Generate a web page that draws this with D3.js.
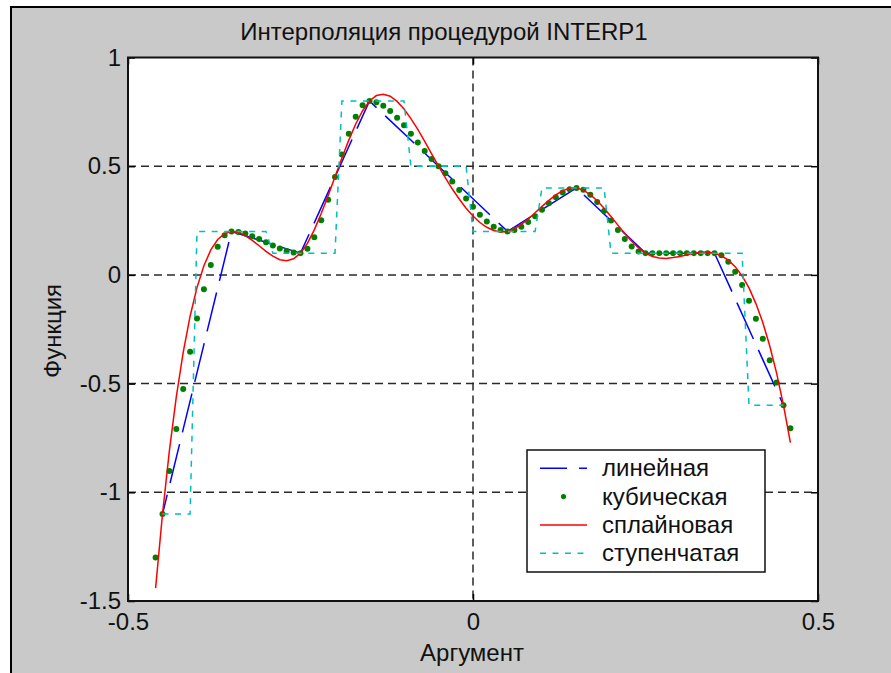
<!DOCTYPE html>
<html>
<head>
<meta charset="utf-8">
<script src="https://cdn.jsdelivr.net/npm/d3@7"></script>
<style>
  html, body { margin: 0; padding: 0; background: #ffffff; }
  svg { display: block; }
  text { font-family: "Liberation Sans", Arial, Helvetica, sans-serif; fill: #111; }
</style>
</head>
<body>
<svg id="chart" width="891" height="673"></svg>
<script>
// Source nodes
const nodeX = [-0.45, -0.35, -0.25, -0.15, -0.05, 0.05, 0.15, 0.25, 0.35, 0.45];
const nodeY = [-1.1, 0.2, 0.1, 0.8, 0.5, 0.2, 0.4, 0.1, 0.1, -0.6];

// Argument grid of the interpolated curves
const argX = [-0.46, -0.45, -0.44, -0.43, -0.42, -0.41, -0.40, -0.39, -0.38, -0.37, -0.36,
  -0.35, -0.34, -0.33, -0.32, -0.31, -0.30, -0.29, -0.28, -0.27, -0.26,
  -0.25, -0.24, -0.23, -0.22, -0.21, -0.20, -0.19, -0.18, -0.17, -0.16,
  -0.15, -0.14, -0.13, -0.12, -0.11, -0.10, -0.09, -0.08, -0.07, -0.06,
  -0.05, -0.04, -0.03, -0.02, -0.01, 0.00, 0.01, 0.02, 0.03, 0.04,
  0.05, 0.06, 0.07, 0.08, 0.09, 0.10, 0.11, 0.12, 0.13, 0.14,
  0.15, 0.16, 0.17, 0.18, 0.19, 0.20, 0.21, 0.22, 0.23, 0.24,
  0.25, 0.26, 0.27, 0.28, 0.29, 0.30, 0.31, 0.32, 0.33, 0.34,
  0.35, 0.36, 0.37, 0.38, 0.39, 0.40, 0.41, 0.42, 0.43, 0.44,
  0.45, 0.46];

// Cubic (dots) values at argX
const cubicY = [-1.300, -1.100, -0.902, -0.709, -0.525, -0.354, -0.200, -0.066, 0.045, 0.129, 0.182,
  0.200, 0.197, 0.190, 0.178, 0.165, 0.150, 0.135, 0.122, 0.110, 0.103,
  0.100, 0.120, 0.173, 0.251, 0.346, 0.450, 0.554, 0.649, 0.727, 0.780,
  0.800, 0.794, 0.778, 0.754, 0.723, 0.688, 0.649, 0.609, 0.570, 0.533,
  0.500, 0.467, 0.430, 0.391, 0.351, 0.313, 0.277, 0.246, 0.222, 0.206,
  0.200, 0.206, 0.221, 0.243, 0.270, 0.300, 0.330, 0.357, 0.379, 0.394,
  0.400, 0.392, 0.369, 0.335, 0.294, 0.250, 0.206, 0.165, 0.131, 0.108,
  0.100, 0.100, 0.100, 0.100, 0.100, 0.100, 0.100, 0.100, 0.100, 0.100,
  0.100, 0.090, 0.061, 0.015, -0.046, -0.119, -0.202, -0.294, -0.393, -0.495,
  -0.600, -0.705];

// Spline values at argX
const splineY = [-1.441, -1.100, -0.808, -0.561, -0.356, -0.190, -0.058, 0.042, 0.115, 0.163, 0.190,
  0.200, 0.196, 0.181, 0.159, 0.134, 0.108, 0.086, 0.070, 0.065, 0.074,
  0.100, 0.145, 0.207, 0.282, 0.364, 0.451, 0.538, 0.620, 0.694, 0.755,
  0.800, 0.825, 0.831, 0.822, 0.798, 0.763, 0.719, 0.669, 0.614, 0.557,
  0.500, 0.446, 0.395, 0.349, 0.307, 0.271, 0.241, 0.219, 0.204, 0.197,
  0.200, 0.212, 0.232, 0.257, 0.286, 0.315, 0.343, 0.368, 0.387, 0.399,
  0.400, 0.390, 0.369, 0.341, 0.307, 0.269, 0.229, 0.190, 0.155, 0.124,
  0.100, 0.085, 0.078, 0.076, 0.080, 0.085, 0.093, 0.099, 0.104, 0.105,
  0.100, 0.088, 0.068, 0.038, -0.005, -0.060, -0.132, -0.219, -0.326, -0.452,
  -0.600, -0.771];

// Step (nearest) polyline corners
const stepX = [-0.45, -0.41, -0.40, -0.30, -0.29, -0.20, -0.19, -0.10, -0.09, -0.01, 0.00, 0.09, 0.10, 0.19, 0.20, 0.39, 0.40, 0.45];
const stepY = [-1.1, -1.1, 0.2, 0.2, 0.1, 0.1, 0.8, 0.8, 0.5, 0.5, 0.2, 0.2, 0.4, 0.4, 0.1, 0.1, -0.6, -0.6];

const xTicks = [-0.5, 0, 0.5];
const yTicks = [1, 0.5, 0, -0.5, -1, -1.5];
const xGrid = [0];
const yGrid = [0.5, 0, -0.5, -1];
const legendLabels = ["линейная", "кубическая", "сплайновая", "ступенчатая"];

const titleText = "Интерполяция процедурой INTERP1";
const xLabelText = "Аргумент";
const yLabelText = "Функция";

// Layout
const W = 891, H = 673;
const box = { left: 128, right: 818, top: 57.5, bottom: 601 };
const col = { blue: "#0000ff", green: "#008000", red: "#ff0000", cyan: "#00bfbf" };

const svg = d3.select("#chart");

// Window frame and figure background
svg.append("rect").attr("x", 10).attr("y", 6).attr("width", W - 10).attr("height", H - 6).attr("fill", "#000");
svg.append("rect").attr("x", 12).attr("y", 8).attr("width", W - 12).attr("height", H - 8).attr("fill", "#c9c9c9");

const x = d3.scaleLinear().domain([-0.5, 0.5]).range([box.left, box.right]);
const y = d3.scaleLinear().domain([-1.5, 1]).range([box.bottom, box.top]);

// Axes background
svg.append("rect")
  .attr("x", box.left).attr("y", box.top)
  .attr("width", box.right - box.left).attr("height", box.bottom - box.top)
  .attr("fill", "#fff");

// Grid
const grid = svg.append("g").attr("stroke", "#2a2a2a").attr("stroke-width", 1.5).attr("stroke-dasharray", "8,5");
grid.selectAll("line.gy").data(yGrid).join("line").attr("class", "gy")
  .attr("x1", box.left).attr("x2", box.right)
  .attr("y1", d => y(d)).attr("y2", d => y(d));
grid.selectAll("line.gx").data(xGrid).join("line").attr("class", "gx")
  .attr("y1", box.top).attr("y2", box.bottom)
  .attr("x1", d => x(d)).attr("x2", d => x(d));

// Curves
const plot = svg.append("g");
const nodes = nodeX.map((v, i) => [v, nodeY[i]]);
const spline = argX.map((v, i) => [v, splineY[i]]);
const cubic = argX.map((v, i) => [v, cubicY[i]]);
const steps = stepX.map((v, i) => [v, stepY[i]]);
const line = d3.line().x(d => x(d[0])).y(d => y(d[1]));

plot.append("path").datum(nodes).attr("d", line)
  .attr("fill", "none").attr("stroke", col.blue).attr("stroke-width", 1.5)
  .attr("stroke-dasharray", "40,12").attr("stroke-dashoffset", 20);

plot.append("g").selectAll("circle").data(cubic).join("circle")
  .attr("cx", d => x(d[0])).attr("cy", d => y(d[1])).attr("r", 3)
  .attr("fill", col.green);

plot.append("path").datum(spline).attr("d", line)
  .attr("fill", "none").attr("stroke", col.red).attr("stroke-width", 1.5);

plot.append("path").datum(steps).attr("d", line)
  .attr("fill", "none").attr("stroke", col.cyan).attr("stroke-width", 1.5)
  .attr("stroke-dasharray", "6,6.5");

// Axes with inward ticks
const fontSize = 24;
const gx = svg.append("g").attr("transform", `translate(0,${box.bottom})`)
  .call(d3.axisBottom(x).tickValues(xTicks).tickSize(-7).tickPadding(12).tickFormat(d => String(d)));
const gy = svg.append("g").attr("transform", `translate(${box.left},0)`)
  .call(d3.axisLeft(y).tickValues(yTicks).tickSize(-7).tickPadding(7).tickFormat(d => String(d)));
const gt = svg.append("g").attr("transform", `translate(0,${box.top})`)
  .call(d3.axisTop(x).tickValues(xTicks).tickSize(-7).tickFormat(""));
const gr = svg.append("g").attr("transform", `translate(${box.right},0)`)
  .call(d3.axisRight(y).tickValues(yTicks).tickSize(-7).tickFormat(""));
[gx, gy, gt, gr].forEach(g => {
  g.select(".domain").remove();
  g.selectAll(".tick line").attr("stroke", "#000").attr("stroke-width", 1.5);
  g.selectAll("text").attr("font-size", fontSize).attr("fill", "#111")
    .attr("font-family", "'Liberation Sans', Arial, sans-serif");
});

// Axes frame
svg.append("rect")
  .attr("x", box.left).attr("y", box.top)
  .attr("width", box.right - box.left).attr("height", box.bottom - box.top)
  .attr("fill", "none").attr("stroke", "#111").attr("stroke-width", 2);

// Title and axis labels
svg.append("text").attr("x", 444).attr("y", 40).attr("text-anchor", "middle")
  .attr("font-size", fontSize).text(titleText);
svg.append("text").attr("x", 472).attr("y", 661).attr("text-anchor", "middle")
  .attr("font-size", fontSize).text(xLabelText);
svg.append("text").attr("transform", "translate(61,331) rotate(-90)").attr("text-anchor", "middle")
  .attr("font-size", fontSize).text(yLabelText);

// Legend
const lg = { x: 527, y: 450, w: 238, h: 122, row0: 468.3, step: 28.3, s0: 540, s1: 587, tx: 602 };
const legend = svg.append("g");
legend.append("rect").attr("x", lg.x).attr("y", lg.y).attr("width", lg.w).attr("height", lg.h)
  .attr("fill", "#fff").attr("stroke", "#111").attr("stroke-width", 1.5);

const items = legendLabels.map((label, i) => ({ label, i, cy: lg.row0 + i * lg.step }));
const row = legend.selectAll("g.item").data(items).join("g").attr("class", "item");
row.append("text").attr("x", lg.tx).attr("y", d => d.cy + 8).attr("font-size", fontSize).text(d => d.label);

row.filter(d => d.i === 0).append("line")
  .attr("x1", lg.s0).attr("x2", lg.s1).attr("y1", d => d.cy).attr("y2", d => d.cy)
  .attr("stroke", col.blue).attr("stroke-width", 1.5)
  .attr("stroke-dasharray", "40,12").attr("stroke-dashoffset", 13);
row.filter(d => d.i === 1).append("circle")
  .attr("cx", (lg.s0 + lg.s1) / 2).attr("cy", d => d.cy).attr("r", 2.6).attr("fill", col.green);
row.filter(d => d.i === 2).append("line")
  .attr("x1", lg.s0).attr("x2", lg.s1).attr("y1", d => d.cy).attr("y2", d => d.cy)
  .attr("stroke", col.red).attr("stroke-width", 1.5);
row.filter(d => d.i === 3).append("line")
  .attr("x1", lg.s0).attr("x2", lg.s1).attr("y1", d => d.cy).attr("y2", d => d.cy)
  .attr("stroke", col.cyan).attr("stroke-width", 1.5).attr("stroke-dasharray", "6,6.5");
</script>
</body>
</html>
